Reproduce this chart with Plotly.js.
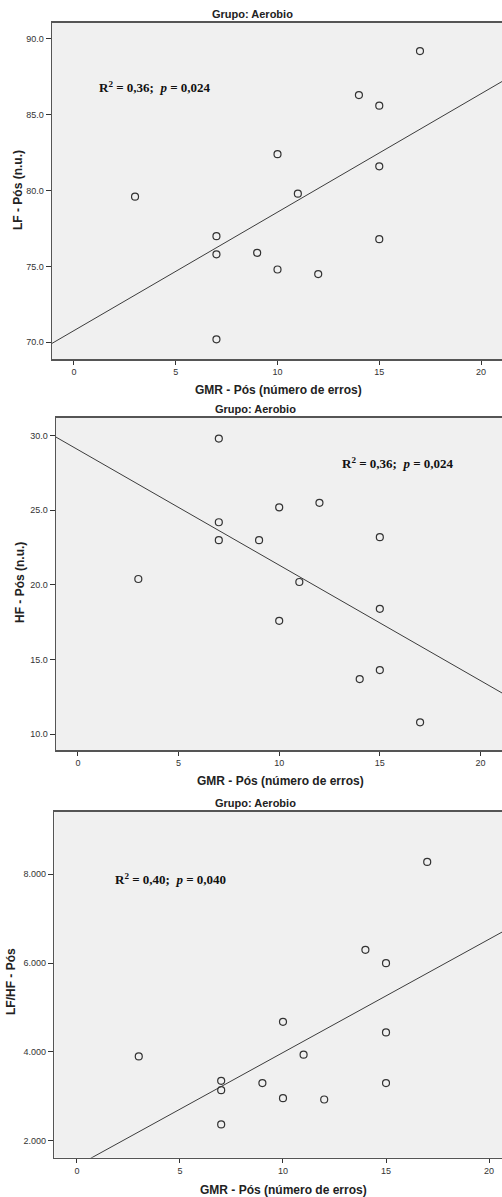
<!DOCTYPE html>
<html>
<head>
<meta charset="utf-8">
<script src="https://cdn.plot.ly/plotly-3.0.1.min.js"></script>
<style>
  html, body { margin: 0; padding: 0; background: #ffffff; }
  #chart { width: 502px; height: 1197px; }
</style>
</head>
<body>
<div id="chart"></div>
<script>
// GMR errors (x) shared by the three panels
const gmrErrors = [17, 14, 15, 10, 15, 3, 11, 7, 15, 9, 7, 10, 12, 7];
// LF post (n.u.)
const lfPos = [89.2, 86.3, 85.6, 82.4, 81.6, 79.6, 79.8, 77.0, 76.8, 75.9, 75.8, 74.8, 74.5, 70.2];
// HF post (n.u.)
const hfPos = [10.8, 13.7, 14.3, 17.6, 18.4, 20.4, 20.2, 23.0, 23.2, 23.0, 24.2, 25.2, 25.5, 29.8];
// LF/HF post
const lfhfPos = [8.28, 6.30, 6.00, 4.68, 4.44, 3.90, 3.94, 3.35, 3.30, 3.30, 3.14, 2.96, 2.93, 2.37];

const groupTitle = 'Grupo: Aerobio';
const xTitle = 'GMR - Pós (número de erros)';
const yTitles = ['LF - Pós (n.u.)', 'HF - Pós (n.u.)', 'LF/HF - Pós'];
const statLabels = [
  '<b>R<sup>2</sup> = 0,36;  <i>p</i> = 0,024</b>',
  '<b>R<sup>2</sup> = 0,36;  <i>p</i> = 0,024</b>',
  '<b>R<sup>2</sup> = 0,40;  <i>p</i> = 0,040</b>'
];
const xTicks = [0, 5, 10, 15, 20];

const H = 1197, W = 502;
const py = p => 1 - p / H;
const px = p => p / W;

// least-squares line through a panel's points
function fit(xs, ys) {
  const n = xs.length;
  const mx = xs.reduce((a, b) => a + b, 0) / n;
  const my = ys.reduce((a, b) => a + b, 0) / n;
  let sxy = 0, sxx = 0;
  for (let i = 0; i < n; i++) {
    sxy += (xs[i] - mx) * (ys[i] - my);
    sxx += (xs[i] - mx) * (xs[i] - mx);
  }
  const b = sxy / sxx;
  return { b: b, a: my - b * mx };
}

// panel geometry (pixels) and axis settings
const panels = [
  { ys: lfPos,  left: 52,   top: 22.7,  bottom: 359,    xr: [-1.08, 21.03], yr: [68.9, 91.07], fmt: '.1f', dt: 5,
    title: 14, xt: { x: 278, y: 390 }, yt: { x: 18, y: 190 }, stat: { x: 1.13, y: 86.83 } },
  { ys: hfPos,  left: 56,   top: 417.7, bottom: 750,    xr: [-1.09, 21.07], yr: [8.95, 31.2],  fmt: '.1f', dt: 5,
    title: 409, xt: { x: 280, y: 781 }, yt: { x: 20, y: 583 }, stat: { x: 13.02, y: 28.18 } },
  { ys: lfhfPos, left: 54.3, top: 811.7, bottom: 1157.7, xr: [-1.10, 20.63], yr: [1.62, 9.41], fmt: ',.3f', dt: 2,
    title: 803, xt: { x: 283, y: 1190 }, yt: { x: 11, y: 982 }, stat: { x: 1.75, y: 7.89 } }
];

const traces = [];
const layout = {
  width: W, height: H,
  margin: { l: 0, r: 0, t: 0, b: 0 },
  paper_bgcolor: '#ffffff',
  showlegend: false,
  font: { family: 'Liberation Sans, Arial, sans-serif', color: '#333333' },
  annotations: []
};

panels.forEach((p, i) => {
  const k = i === 0 ? '' : String(i + 1);
  const xa = 'x' + k, ya = 'y' + k;
  const f = fit(gmrErrors, p.ys);
  const lineX = [p.xr[0] - 1, p.xr[1] + 1];

  traces.push({
    type: 'scatter', mode: 'lines', xaxis: xa, yaxis: ya,
    x: lineX, y: lineX.map(v => f.a + f.b * v),
    line: { color: '#3c3c3c', width: 1 }, hoverinfo: 'skip'
  });
  traces.push({
    type: 'scatter', mode: 'markers', xaxis: xa, yaxis: ya,
    x: gmrErrors, y: p.ys,
    marker: { symbol: 'circle-open', size: 7, color: '#333333', line: { width: 1.2, color: '#333333' } }
  });

  layout['xaxis' + k] = {
    domain: [px(p.left), 1], anchor: ya, range: p.xr,
    tickvals: xTicks, ticktext: xTicks.map(String),
    ticks: 'outside', ticklen: 4, tickwidth: 1, tickcolor: '#333333',
    tickfont: { size: 9, color: '#333333' },
    showline: true, linecolor: '#555555', linewidth: 1.5, mirror: true,
    showgrid: false, zeroline: false, fixedrange: true
  };
  layout['yaxis' + k] = {
    domain: [py(p.bottom), py(p.top)], anchor: xa, range: p.yr,
    dtick: p.dt, tick0: 0, tickformat: p.fmt,
    ticks: 'outside', ticklen: 5, tickwidth: 1, tickcolor: '#333333',
    tickfont: { size: 9, color: '#333333' },
    showline: true, linecolor: '#555555', linewidth: 1.5, mirror: false,
    showgrid: false, zeroline: false, fixedrange: true
  };
  layout.shapes = layout.shapes || [];
  layout.shapes.push({
    type: 'rect', layer: 'below', xref: xa + ' domain', yref: ya + ' domain',
    x0: 0, x1: 1, y0: 0, y1: 1, fillcolor: '#f0f0f0', line: { width: 0 }
  });

  layout.annotations.push(
    { text: '<b>' + groupTitle + '</b>', xref: 'paper', yref: 'paper', x: px(p.left === 52 ? 252.5 : 255), y: py(p.title),
      xanchor: 'center', yanchor: 'middle', showarrow: false, font: { size: 11, color: '#222222' } },
    { text: '<b>' + xTitle + '</b>', xref: 'paper', yref: 'paper', x: px(p.xt.x), y: py(p.xt.y),
      xanchor: 'center', yanchor: 'middle', showarrow: false, font: { size: 12, color: '#222222' } },
    { text: '<b>' + yTitles[i] + '</b>', xref: 'paper', yref: 'paper', x: px(p.yt.x), y: py(p.yt.y),
      xanchor: 'center', yanchor: 'middle', textangle: -90, showarrow: false, font: { size: 12, color: '#222222' } },
    { text: statLabels[i], xref: xa, yref: ya, x: p.stat.x, y: p.stat.y,
      xanchor: 'left', yanchor: 'middle', showarrow: false,
      font: { family: 'Liberation Serif, Times New Roman, serif', size: 13, color: '#111111' } }
  );
});

// light grey plot backgrounds
layout.plot_bgcolor = 'rgba(0,0,0,0)';

Plotly.newPlot('chart', traces, layout, { staticPlot: true, displayModeBar: false });
</script>
</body>
</html>
